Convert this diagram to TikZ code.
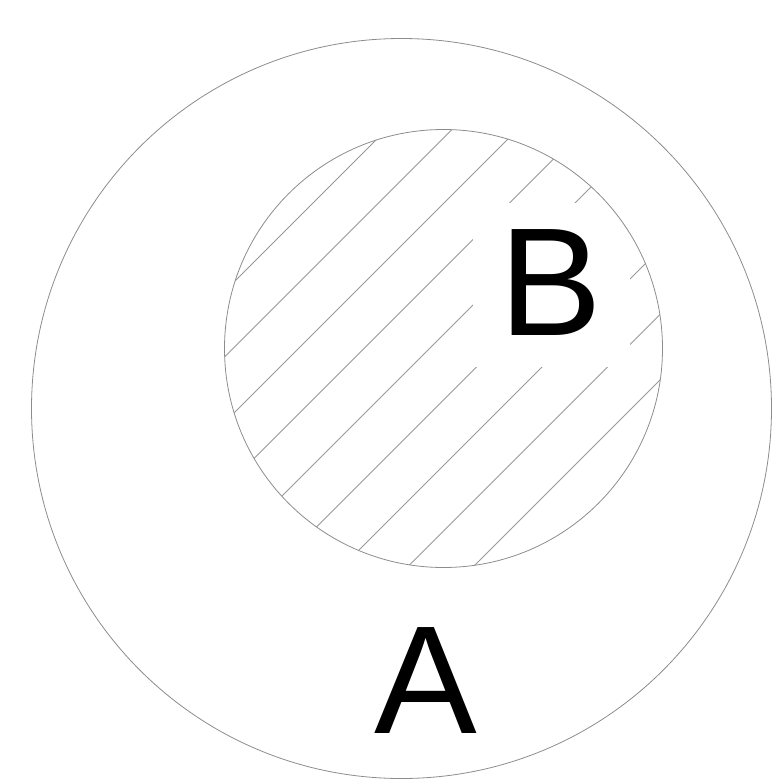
\documentclass[tikz,border=0pt]{standalone}
\usepackage{fontspec}
\setmainfont{Liberation Sans}
\usetikzlibrary{positioning}
\tikzset{
  setline/.style={draw=black!45, line width=0.8pt},
  hatch/.style={draw=black!40, line width=0.8pt},
  setlabel/.style={inner sep=0pt, font=\fontsize{154}{154}\selectfont},
  labelgap/.style={fill=white, inner sep=0pt, minimum width=157pt, minimum height=164pt}
}

\begin{document}
\begin{tikzpicture}[x=1pt,y=-1pt]
  \useasboundingbox (0,0) rectangle (773,780);
  \coordinate (cA) at (401.5,408.5);
  \coordinate (cB) at (443.5,348.5);
  % hatching of B
  \begin{scope}
    \clip (cB) circle [radius=219pt];
    \foreach \c in {516,581.5,...,1045}
      \draw[hatch] (\c-700,700) -- (\c,0);
  \end{scope}
  \node[labelgap] (gapB) at (551.5,285) {};
  \node[setlabel] (labB) at (551,283) {B};
  \node[circle,setline,minimum size=740pt,inner sep=0pt] (setA) at (cA) {};
  \node[circle,setline,minimum size=438pt,inner sep=0pt] (setB) at (cB) {};
  \node[setlabel] (labA) at (426,681) {A};
\end{tikzpicture}
\end{document}
